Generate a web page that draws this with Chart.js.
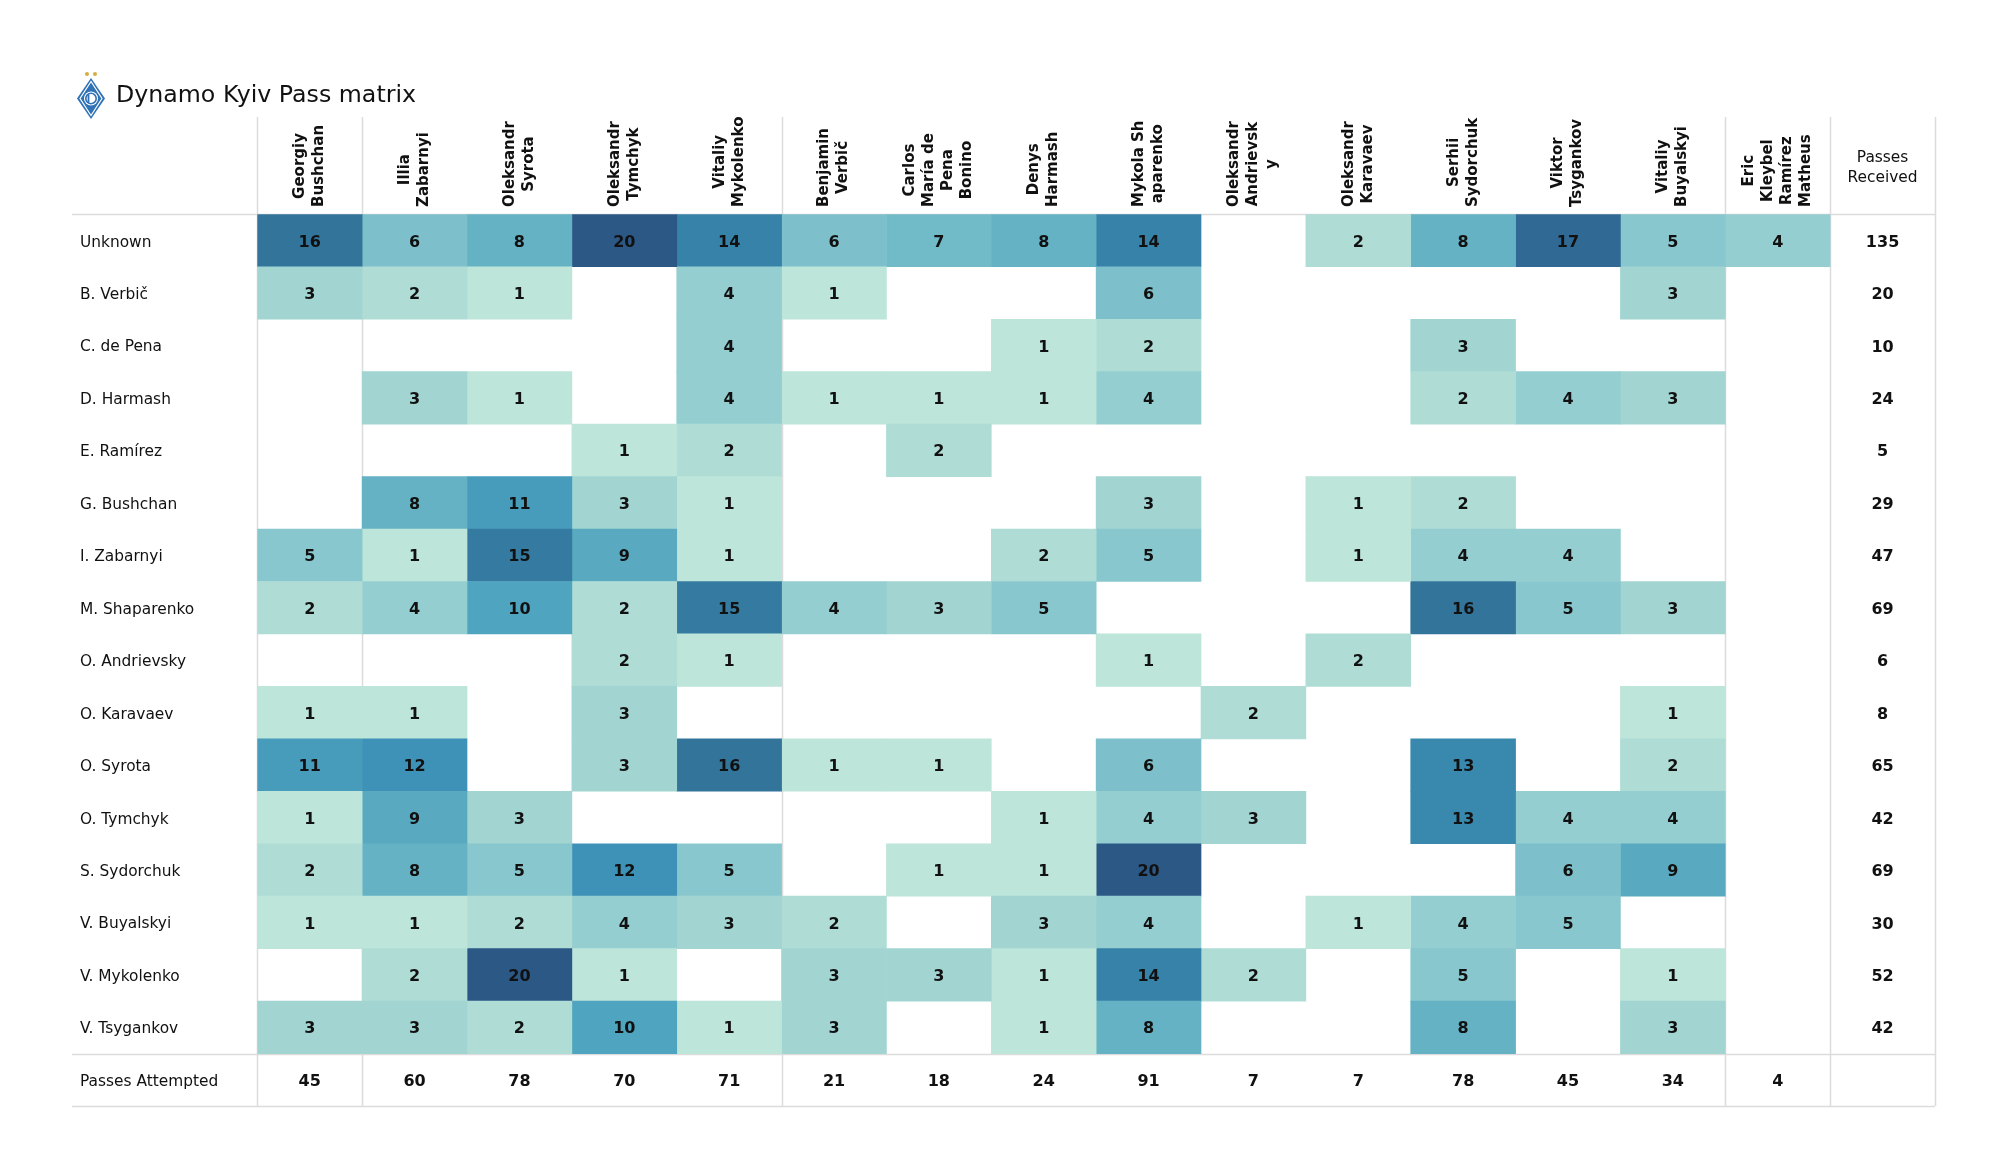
<!DOCTYPE html>
<html>
<head>
<meta charset="utf-8">
<script src="https://cdn.jsdelivr.net/npm/chart.js@4.4.1/dist/chart.umd.min.js"></script>
<style>
  html, body { margin: 0; padding: 0; background: #ffffff; }
  #wrap { position: relative; width: 2000px; height: 1175px; overflow: hidden; background: #fff; }
  #chart { position: absolute; left: 0; top: 0; }
  #title { position: absolute; left: 116px; top: 82px; font: 23.7px "DejaVu Sans", sans-serif; line-height: 24px; color: #111; white-space: nowrap; }
  #logo { position: absolute; left: 75px; top: 69px; }
</style>
</head>
<body>
<div id="wrap">
  <canvas id="chart" width="2000" height="1175"></canvas>
  <svg id="logo" width="32" height="52" viewBox="0 0 32 52">
    <circle cx="12" cy="5" r="2" fill="#d6ac45"/>
    <circle cx="20" cy="5" r="2" fill="#d6ac45"/>
    <polygon points="16,9 30,29.5 16,50 2,29.5" fill="#2f72b6"/>
    <polygon points="16,12.5 27,29.5 16,46.5 5,29.5" fill="none" stroke="#ffffff" stroke-width="1.2"/>
    <circle cx="16" cy="29.5" r="7" fill="#ffffff"/>
    <circle cx="16" cy="29.5" r="5.2" fill="none" stroke="#2f72b6" stroke-width="1.6"/>
    <path d="M13.5 25.5 L13.5 33.5" fill="none" stroke="#2f72b6" stroke-width="1.8"/>
  </svg>
  <div id="title">Dynamo Kyiv Pass matrix</div>
</div>
<script>
// ---------------- data ----------------
const passers = [
  'Georgiy Bushchan', 'Illia Zabarnyi', 'Oleksandr Syrota', 'Oleksandr Tymchyk', 'Vitaliy Mykolenko',
  'Benjamin Verbič', 'Carlos María de Pena Bonino', 'Denys Harmash', 'Mykola Shaparenko',
  'Oleksandr Andrievsky', 'Oleksandr Karavaev', 'Serhii Sydorchuk', 'Viktor Tsygankov',
  'Vitaliy Buyalskyi', 'Eric Kleybel Ramírez Matheus'
];
const headerLabels = [
  ['Georgiy', 'Bushchan'], ['Illia', 'Zabarnyi'], ['Oleksandr', 'Syrota'], ['Oleksandr', 'Tymchyk'],
  ['Vitaliy', 'Mykolenko'], ['Benjamin', 'Verbič'], ['Carlos', 'María de', 'Pena', 'Bonino'],
  ['Denys', 'Harmash'], ['Mykola Sh', 'aparenko'], ['Oleksandr', 'Andrievsk', 'y'],
  ['Oleksandr', 'Karavaev'], ['Serhii', 'Sydorchuk'], ['Viktor', 'Tsygankov'],
  ['Vitaliy', 'Buyalskyi'], ['Eric', 'Kleybel', 'Ramírez', 'Matheus']
];
const receivedHeader = ['Passes', 'Received'];
const attemptedLabel = 'Passes Attempted';
const receivers = [
  'Unknown', 'B. Verbič', 'C. de Pena', 'D. Harmash', 'E. Ramírez', 'G. Bushchan', 'I. Zabarnyi',
  'M. Shaparenko', 'O. Andrievsky', 'O. Karavaev', 'O. Syrota', 'O. Tymchyk', 'S. Sydorchuk',
  'V. Buyalskyi', 'V. Mykolenko', 'V. Tsygankov'
];
const _ = null;
// rows = receivers, columns = passers
const passCounts = [
  [16, 6, 8, 20, 14, 6, 7, 8, 14, _, 2, 8, 17, 5, 4],
  [3, 2, 1, _, 4, 1, _, _, 6, _, _, _, _, 3, _],
  [_, _, _, _, 4, _, _, 1, 2, _, _, 3, _, _, _],
  [_, 3, 1, _, 4, 1, 1, 1, 4, _, _, 2, 4, 3, _],
  [_, _, _, 1, 2, _, 2, _, _, _, _, _, _, _, _],
  [_, 8, 11, 3, 1, _, _, _, 3, _, 1, 2, _, _, _],
  [5, 1, 15, 9, 1, _, _, 2, 5, _, 1, 4, 4, _, _],
  [2, 4, 10, 2, 15, 4, 3, 5, _, _, _, 16, 5, 3, _],
  [_, _, _, 2, 1, _, _, _, 1, _, 2, _, _, _, _],
  [1, 1, _, 3, _, _, _, _, _, 2, _, _, _, 1, _],
  [11, 12, _, 3, 16, 1, 1, _, 6, _, _, 13, _, 2, _],
  [1, 9, 3, _, _, _, _, 1, 4, 3, _, 13, 4, 4, _],
  [2, 8, 5, 12, 5, _, 1, 1, 20, _, _, _, 6, 9, _],
  [1, 1, 2, 4, 3, 2, _, 3, 4, _, 1, 4, 5, _, _],
  [_, 2, 20, 1, _, 3, 3, 1, 14, 2, _, 5, _, 1, _],
  [3, 3, 2, 10, 1, 3, _, 1, 8, _, _, 8, _, 3, _]
];
const passesReceived = [135, 20, 10, 24, 5, 29, 47, 69, 6, 8, 65, 42, 69, 30, 52, 42];
const passesAttempted = [45, 60, 78, 70, 71, 21, 18, 24, 91, 7, 7, 78, 45, 34, 4];

// ---------------- styling ----------------
const colorStops = [
  [1, [189, 229, 218]], [2, [175, 221, 214]], [3, [162, 213, 210]], [4, [149, 206, 208]],
  [5, [137, 199, 206]], [6, [125, 192, 203]], [7, [113, 186, 200]], [8, [101, 178, 196]],
  [9, [89, 170, 192]], [10, [79, 164, 191]], [11, [71, 156, 188]], [12, [63, 146, 183]],
  [13, [57, 136, 174]], [14, [55, 130, 169]], [15, [53, 122, 161]], [16, [51, 116, 155]],
  [17, [48, 106, 148]], [20, [44, 88, 134]]
];
function cellColor(v) {
  if (v == null) return 'rgba(0,0,0,0)';
  let lo = colorStops[0], hi = colorStops[colorStops.length - 1];
  for (let i = 0; i < colorStops.length - 1; i++) {
    if (v >= colorStops[i][0] && v <= colorStops[i + 1][0]) { lo = colorStops[i]; hi = colorStops[i + 1]; break; }
  }
  const t = hi[0] === lo[0] ? 0 : (v - lo[0]) / (hi[0] - lo[0]);
  const c = lo[1].map((a, k) => Math.round(a + (hi[1][k] - a) * t));
  return `rgb(${c[0]},${c[1]},${c[2]})`;
}

const FONT = '"DejaVu Sans", sans-serif';
const TEXT_COLOR = '#111111';
const LINE_COLOR = '#dcdcdc';

const tablePlugin = {
  id: 'tableDecor',
  beforeDatasetsDraw(chart, args, opts) {
    const ctx = chart.ctx, xs = chart.scales.x, ys = chart.scales.y, area = chart.chartArea;
    ctx.save();
    ctx.strokeStyle = LINE_COLOR;
    ctx.lineWidth = 1.5;
    opts.verticalAt.forEach(i => {
      const x = Math.round(xs.getPixelForValue(i)) + 0.5;
      ctx.beginPath(); ctx.moveTo(x, opts.headerTop); ctx.lineTo(x, area.bottom); ctx.stroke();
    });
    const n = receivers.length;
    const ySep = (ys.getPixelForValue(n - 1) + ys.getPixelForValue(n)) / 2;
    [area.top, ySep, area.bottom].forEach(y => {
      const yy = Math.round(y) + 0.5;
      ctx.beginPath(); ctx.moveTo(opts.tableLeft, yy); ctx.lineTo(area.right, yy); ctx.stroke();
    });
    ctx.restore();
  },
  afterDatasetsDraw(chart, args, opts) {
    const ctx = chart.ctx, xs = chart.scales.x, ys = chart.scales.y;
    const dy = opts.valueOffsetY;
    ctx.save();
    ctx.fillStyle = TEXT_COLOR;
    ctx.textAlign = 'center';
    ctx.textBaseline = 'middle';
    ctx.font = 'bold 16px ' + FONT;
    // cell values
    passCounts.forEach((row, r) => {
      const y = ys.getPixelForValue(r);
      row.forEach((v, c) => {
        if (v == null) return;
        ctx.fillText(String(v), xs.getPixelForValue(c + 0.5), y + dy);
      });
    });
    // passes received
    const xr = xs.getPixelForValue(passers.length + 0.5);
    passesReceived.forEach((v, r) => ctx.fillText(String(v), xr, ys.getPixelForValue(r) + dy));
    // passes attempted
    const ya = ys.getPixelForValue(receivers.length);
    passesAttempted.forEach((v, c) => ctx.fillText(String(v), xs.getPixelForValue(c + 0.5), ya + dy));
    // column headers (rotated)
    ctx.font = 'bold 15px ' + FONT;
    headerLabels.forEach((lines, c) => {
      const cx = xs.getPixelForValue(c + 0.5);
      const maxW = Math.max(...lines.map(l => ctx.measureText(l).width));
      const cy = opts.headerBottom - maxW / 2;
      lines.forEach((line, i) => {
        const lx = cx + (i - (lines.length - 1) / 2) * opts.headerLineHeight;
        ctx.save();
        ctx.translate(lx, cy);
        ctx.rotate(-Math.PI / 2);
        ctx.fillText(line, 0, 0);
        ctx.restore();
      });
    });
    // passes received header
    ctx.font = '15.4px ' + FONT;
    receivedHeader.forEach((line, i) => {
      ctx.fillText(line, xr, opts.receivedHeaderY + i * 20);
    });
    ctx.restore();
  }
};

new Chart(document.getElementById('chart'), {
  type: 'bar',
  data: {
    labels: receivers.concat([attemptedLabel]),
    datasets: passers.map((name, c) => ({
      label: name,
      data: receivers.map((_r, r) => passCounts[r][c] == null ? null : [c, c + 1]).concat([null]),
      backgroundColor: receivers.map((_r, r) => cellColor(passCounts[r][c])).concat(['rgba(0,0,0,0)']),
      barPercentage: 1,
      categoryPercentage: 1,
      grouped: false,
      borderWidth: 0
    }))
  },
  options: {
    indexAxis: 'y',
    responsive: false,
    animation: false,
    devicePixelRatio: 1,
    layout: { padding: { left: 80, right: 65, top: 214.3, bottom: 69 } },
    plugins: {
      legend: { display: false },
      tooltip: { enabled: false },
      title: { display: false },
      tableDecor: {
        verticalAt: [0, 1, 5, 14, 15, 16],
        headerTop: 117,
        tableLeft: 72,
        headerBottom: 207,
        headerLineHeight: 19,
        receivedHeaderY: 158,
        valueOffsetY: 2
      }
    },
    scales: {
      x: { type: 'linear', min: 0, max: 16, display: false },
      y: {
        type: 'category',
        grid: { display: false },
        border: { display: false },
        ticks: { crossAlign: 'far', autoSkip: false, labelOffset: 2, color: TEXT_COLOR, font: { family: FONT, size: 15.4 } },
        afterFit(scale) { scale.width = 177.3; }
      }
    }
  },
  plugins: [tablePlugin]
});
</script>
</body>
</html>
